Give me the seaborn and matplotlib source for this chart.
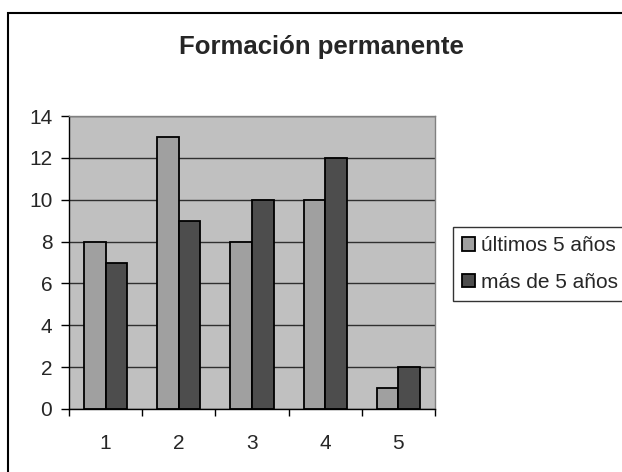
import seaborn as sns
import pandas as pd
import matplotlib.pyplot as plt
from matplotlib.patches import Rectangle
from matplotlib.ticker import FixedLocator

# Chart data
categories = ["1", "2", "3", "4", "5"]
ultimos = [8, 13, 8, 10, 1]
mas_de = [7, 9, 10, 12, 2]
series_names = ["últimos 5 años", "más de 5 años"]

df = pd.DataFrame({
    "Grupo": categories * 2,
    "Valor": ultimos + mas_de,
    "Serie": [series_names[0]] * len(categories) + [series_names[1]] * len(categories),
})

sns.set_style("white")
plt.rcParams["font.family"] = ["Liberation Sans", "DejaVu Sans"]

fig = plt.figure(figsize=(6.22, 4.72), dpi=100)
ax = fig.add_axes([69 / 622, 1 - 409 / 472, (435 - 69) / 622, (409 - 116) / 472])

sns.barplot(data=df, x="Grupo", y="Valor", hue="Serie",
            palette=["#A0A0A0", "#4D4D4D"], width=0.59,
            edgecolor="black", linewidth=1.3, ax=ax, legend=True)

ax.set_facecolor("#C0C0C0")
ax.set_ylim(0, 14)
ax.set_xlim(-0.5, 4.5)
ax.set_yticks(range(0, 15, 2))
ax.yaxis.grid(True, color="#303030", linewidth=1)
ax.set_axisbelow(True)
ax.set_xlabel("")
ax.set_ylabel("")

for side in ["top", "right"]:
    ax.spines[side].set_color("#808080")
    ax.spines[side].set_linewidth(1)
for side in ["left", "bottom"]:
    ax.spines[side].set_color("black")
    ax.spines[side].set_linewidth(1)

ax.tick_params(axis="y", which="major", direction="out", length=6, width=1,
               color="black", labelsize=15, pad=6, left=True)
ax.tick_params(axis="x", which="major", length=0, labelsize=15, pad=18)
ax.xaxis.set_minor_locator(FixedLocator([-0.5, 0.5, 1.5, 2.5, 3.5, 4.5]))
ax.tick_params(axis="x", which="minor", direction="out", length=5, width=1,
               color="black", bottom=True)

handles, labels = ax.get_legend_handles_labels()
ax.legend_.remove()
leg = fig.legend(handles, labels, loc="upper left",
                 bbox_to_anchor=(453 / 622, 1 - 227 / 472),
                 frameon=True, fancybox=False, edgecolor="black",
                 fontsize=15, handlelength=0.6, handleheight=0.6,
                 handletextpad=0.3, labelspacing=0.85, borderpad=0.45,
                 borderaxespad=0)
leg.get_frame().set_linewidth(1)

fig.text(321 / 622, 1 - 47 / 472, "Formación permanente", ha="center", va="center",
         fontsize=18.5, fontweight="bold")

fig.patches.append(Rectangle((8 / 622, -0.1), 1.2, 1 - 13 / 472 + 0.1,
                             transform=fig.transFigure, fill=False,
                             edgecolor="black", linewidth=1.5, clip_on=False))

fig.savefig("out.png", dpi=100)
